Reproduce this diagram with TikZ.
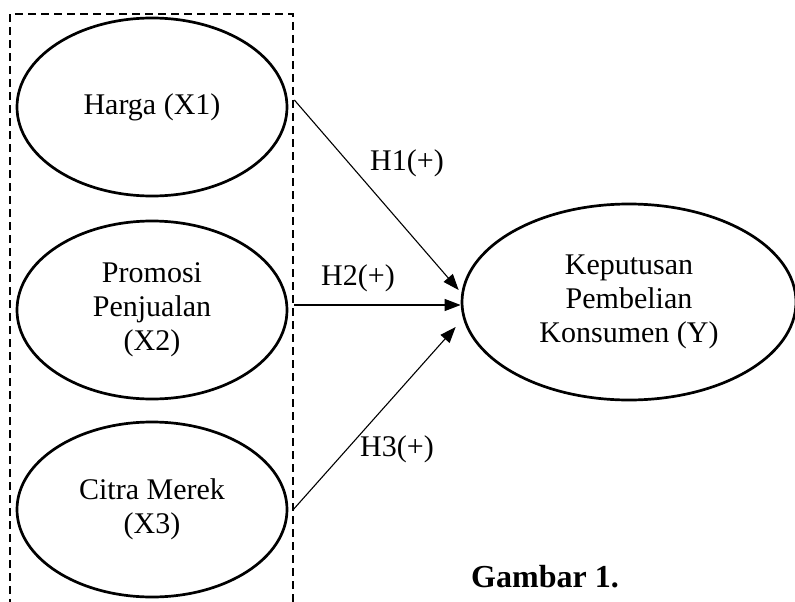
\documentclass[tikz,border=0pt]{standalone}
\usepackage{fontspec}
\setmainfont{Liberation Serif}
\usetikzlibrary{shapes.geometric,arrows.meta}
\begin{document}
\begin{tikzpicture}[x=1pt,y=-1pt,
  varell/.style={draw,line width=2.7pt,ellipse,inner sep=0pt,minimum width=270pt,minimum height=178pt,align=center,font=\fontsize{30}{34}\selectfont},
  hyp/.style={line width=1.1pt,-{Triangle[length=16pt,width=12pt]}},
  hlab/.style={font=\fontsize{30}{34}\selectfont,inner sep=0pt}]
\useasboundingbox (0,0) rectangle (795,602);
\draw[line width=2pt,dash pattern=on 8pt off 5pt] (10,620) -- (10,14) -- (293,14) -- (293,620);
\node[varell] (x1) at (152,107) {Harga (X1)};
\node[varell] (x2) at (152,310) {Promosi\\Penjualan\\(X2)};
\node[varell,minimum height=175pt] (x3) at (152,509.5) {Citra Merek\\(X3)};
\node[varell,minimum width=334pt,minimum height=196pt] (y) at (629,302) {Keputusan\\Pembelian\\Konsumen (Y)};
\coordinate (s1) at ([xshift=6pt,yshift=7pt]x1.east);
\coordinate (s2) at ([xshift=6pt,yshift=5pt]x2.east);
\coordinate (s3) at ([xshift=5pt]x3.east);
\coordinate (t1) at ([xshift=-2pt,yshift=12pt]y.west);
\coordinate (t2) at ([yshift=-3pt]y.west);
\coordinate (t3) at ([xshift=-5pt,yshift=-25pt]y.west);
\draw[hyp] (s1) -- (t1);
\draw[hyp] (s2) -- (t2);
\draw[hyp] (s3) -- (t3);
\node[hlab] (h1) at (407,163) {H1(+)};
\node[hlab] (h2) at (358,278) {H2(+)};
\node[hlab] (h3) at (397,449) {H3(+)};
\node[font=\fontsize{32}{36}\selectfont\bfseries,inner sep=0pt] (cap) at (545,577) {Gambar 1.};
\end{tikzpicture}
\end{document}
